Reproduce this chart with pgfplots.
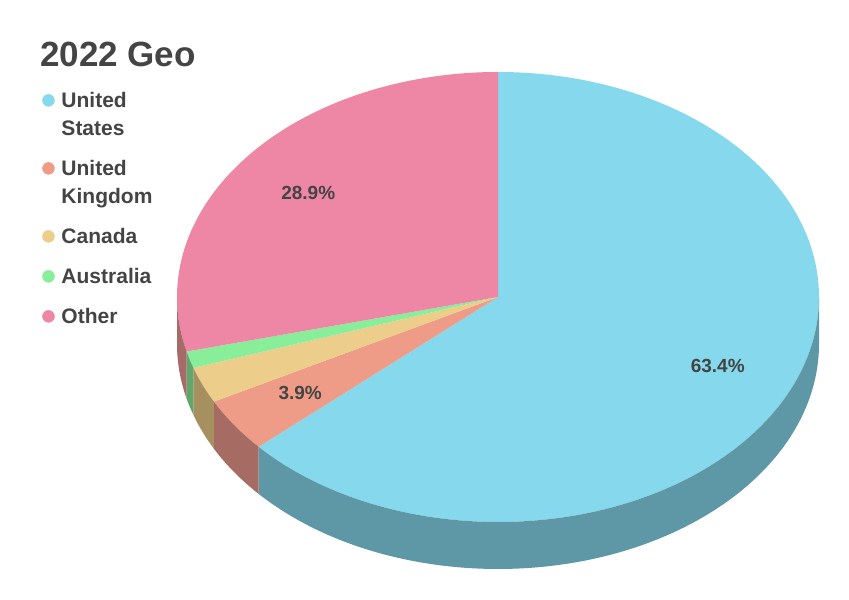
\documentclass[border=0pt]{standalone}
\usepackage{pgfplots}
\usepackage{pgfplotstable}
\usepackage{fontspec}
\setmainfont{Liberation Sans}
\pgfplotsset{compat=1.18}

\definecolor{cUS}{HTML}{86D8EC}
\definecolor{cUK}{HTML}{EE9C88}
\definecolor{cCA}{HTML}{EDCD8A}
\definecolor{cAU}{HTML}{89EE99}
\definecolor{cOT}{HTML}{EE86A6}
\definecolor{sUS}{HTML}{5E98A6}
\definecolor{sUK}{HTML}{A66B62}
\definecolor{sCA}{HTML}{A6905F}
\definecolor{sAU}{HTML}{5FA76B}
\definecolor{sOT}{HTML}{A66A68}
\definecolor{txt}{HTML}{444444}

% share of visits, clockwise from 12 o'clock
\pgfplotstableread{
share top side
63.4 cUS sUS
3.9 cUK sUK
2.6 cCA sCA
1.2 cAU sAU
28.9 cOT sOT
}\geodata

% pie geometry (1 axis unit = 1bp)
\def\cx{498}\def\cy{303}\def\rx{321}\def\ry{225}\def\dep{47}

\tikzset{pielabel/.style={font=\fontsize{19bp}{22bp}\selectfont\bfseries, text=txt, inner sep=0pt}}
\newcommand\legendfont{\fontsize{21bp}{28bp}\selectfont\bfseries}

\begin{document}
\begin{tikzpicture}
\begin{axis}[
  width=849bp, height=600bp, scale only axis,
  xmin=0, xmax=849, ymin=0, ymax=600,
  hide axis, clip=false,
  title={2022 Geo},
  title style={at={(0.0471,0.88)}, anchor=base west, inner sep=0pt,
    font=\fontsize{35bp}{40bp}\selectfont\bfseries, text=txt},
  legend style={at={(0.04982,0.85267)}, anchor=north west, draw=none, fill=none,
    inner sep=0pt, outer sep=0pt, row sep=12bp, column sep=6.8bp,
    font=\legendfont, text=txt,
    nodes={inner sep=0pt, text depth=, text height=},
    cells={anchor=base west}},
  legend image code/.code={\fill[#1] (6bp,7.6bp) circle[radius=6bp];},
]
\addplot[draw=none, forget plot] coordinates {(0,0) (849,600)};
\path (rel axis cs:0,0) rectangle (rel axis cs:1,1);

\def\cum{0}
\pgfplotsforeachungrouped \i in {0,...,4}{%
  \pgfplotstablegetelem{\i}{share}\of\geodata \let\val\pgfplotsretval
  \pgfplotstablegetelem{\i}{top}\of\geodata \let\col\pgfplotsretval
  \pgfplotstablegetelem{\i}{side}\of\geodata \let\scol\pgfplotsretval
  \pgfmathsetmacro\a{90-3.6*\cum}
  \pgfmathsetmacro\b{90-3.6*(\cum+\val)}
  \pgfmathsetmacro\m{(\a+\b)/2}
  \pgfmathsetmacro\cum{\cum+\val}
  \pgfmathsetmacro\sa{min(\a,0)}
  \pgfmathsetmacro\sb{max(\b,-180)}
  % top face
  \edef\tmp{\noexpand\fill[\col] (axis cs:\cx,\cy) -- (axis cs:{\cx+\rx*cos(\a)},{\cy+\ry*sin(\a)})
    arc[start angle=\a, end angle=\b, x radius=\rx bp, y radius=\ry bp] -- cycle;}\tmp
  % visible side wall
  \ifdim\sa pt>\sb pt
    \edef\tmp{\noexpand\fill[\scol] (axis cs:{\cx+\rx*cos(\sa)},{\cy+\ry*sin(\sa)})
      arc[start angle=\sa, end angle=\sb, x radius=\rx bp, y radius=\ry bp]
      -- (axis cs:{\cx+\rx*cos(\sb)},{\cy-\dep+\ry*sin(\sb)})
      arc[start angle=\sb, end angle=\sa, x radius=\rx bp, y radius=\ry bp] -- cycle;}\tmp
  \fi
  % value label for the larger slices
  \ifdim\val pt>3pt
    \edef\tmp{\noexpand\node[pielabel] at (axis cs:{\cx+0.75*\rx*cos(\m)},{\cy+0.75*\ry*sin(\m)}) {\val\%};}\tmp
  \fi
}

\addlegendimage{cUS}
\addlegendentry{\vtop{\hbox{\strut United}\hbox{\strut States}}}
\addlegendimage{cUK}
\addlegendentry{\vtop{\hbox{\strut United}\hbox{\strut Kingdom}}}
\addlegendimage{cCA}
\addlegendentry{\strut Canada}
\addlegendimage{cAU}
\addlegendentry{\strut Australia}
\addlegendimage{cOT}
\addlegendentry{\strut Other}
\end{axis}
\end{tikzpicture}
\end{document}
